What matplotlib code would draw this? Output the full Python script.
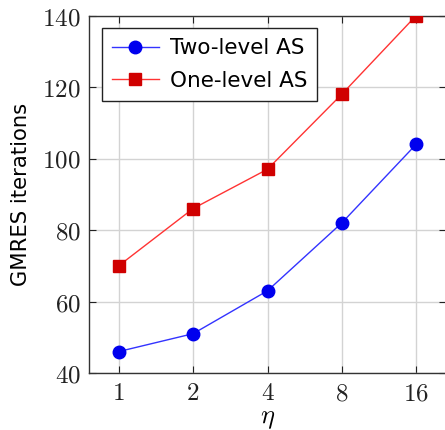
import matplotlib
matplotlib.use('Agg')
import matplotlib.pyplot as plt

eta = [1, 2, 4, 8, 16]
two_level = [46, 51, 63, 82, 104]
one_level = [70, 86, 97, 118, 140]
yticks = [40, 60, 80, 100, 120, 140]

plt.rcParams['mathtext.fontset'] = 'cm'
plt.rcParams['font.family'] = 'DejaVu Sans'

fig = plt.figure(figsize=(4.45, 4.30), dpi=100)
ax = fig.add_axes([89/445, 57/430, 357/445, 357.5/430])

ax.plot(eta, two_level, color='#3333ff', lw=1.0, marker='o', ms=9,
        mfc='#0000ee', mec='#0000ee', label='Two-level AS', zorder=3)
ax.plot(eta, one_level, color='#ff3333', lw=1.0, marker='s', ms=9,
        mfc='#d00000', mec='#d00000', label='One-level AS', zorder=3)

ax.set_xscale('log', base=2)
ax.set_xlim(2 ** -0.4, 2 ** 4.4)
ax.set_ylim(40, 140)
ax.set_xticks(eta)
ax.set_xticklabels(['$%d$' % v for v in eta])
ax.set_yticks(yticks)
ax.set_yticklabels(['$%d$' % v for v in yticks])
ax.minorticks_off()
ax.tick_params(direction='in', top=True, right=True, length=5, width=0.8,
               labelsize=18, colors='#222222', pad=6)
ax.grid(True, color='#d3d3d3', lw=1.0, zorder=0)
for s in ax.spines.values():
    s.set_linewidth(1.0)
    s.set_color('#333333')

ax.set_xlabel(r'$\eta$', fontsize=19, labelpad=0)
ax.set_ylabel('GMRES iterations', fontsize=15.2, labelpad=8)

leg = ax.legend(loc='upper left', fontsize=15.5, frameon=True, fancybox=False,
                edgecolor='#222222', framealpha=1, handlelength=2.2,
                handletextpad=0.5, borderaxespad=0.6, labelspacing=0.6,
                borderpad=0.45)
leg.get_frame().set_linewidth(1.0)

fig.savefig('out.png', dpi=100)
